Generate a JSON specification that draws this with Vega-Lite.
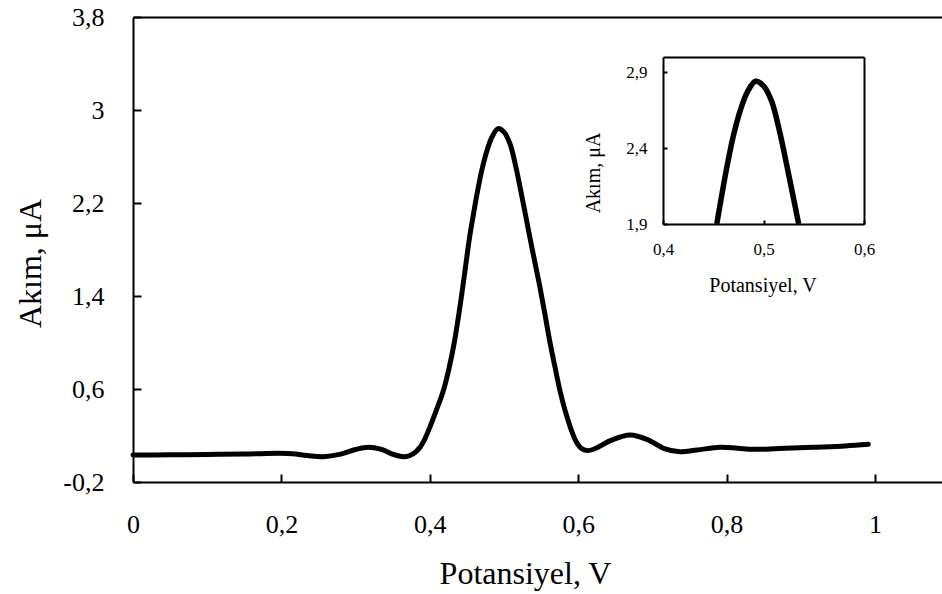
{
  "$schema": "https://vega.github.io/schema/vega-lite/v6.json",
  "autosize": {"type": "none"},
  "padding": {"left": 133, "top": 17, "right": 0, "bottom": 112},
  "width": 809,
  "height": 465,
  "background": "white",
  "config": {
    "view": {"stroke": null},
    "font": "Times New Roman, Liberation Serif, serif",
    "axis": {
      "grid": false,
      "domainColor": "black",
      "tickColor": "black",
      "labelColor": "black",
      "titleColor": "black",
      "titleFontWeight": "normal",
      "labelFont": "Times New Roman, Liberation Serif, serif",
      "titleFont": "Times New Roman, Liberation Serif, serif"
    }
  },
  "data": {
    "values": [
      {"potansiyel": 0.000, "akim": 0.032},
      {"potansiyel": 0.050, "akim": 0.034},
      {"potansiyel": 0.100, "akim": 0.037},
      {"potansiyel": 0.150, "akim": 0.040},
      {"potansiyel": 0.198, "akim": 0.047},
      {"potansiyel": 0.215, "akim": 0.043},
      {"potansiyel": 0.235, "akim": 0.028},
      {"potansiyel": 0.256, "akim": 0.018},
      {"potansiyel": 0.280, "akim": 0.040},
      {"potansiyel": 0.300, "akim": 0.080},
      {"potansiyel": 0.317, "akim": 0.099},
      {"potansiyel": 0.335, "akim": 0.080},
      {"potansiyel": 0.352, "akim": 0.035},
      {"potansiyel": 0.367, "akim": 0.018},
      {"potansiyel": 0.378, "akim": 0.045},
      {"potansiyel": 0.387, "akim": 0.100},
      {"potansiyel": 0.394, "akim": 0.180},
      {"potansiyel": 0.400, "akim": 0.270},
      {"potansiyel": 0.409, "akim": 0.420},
      {"potansiyel": 0.418, "akim": 0.580},
      {"potansiyel": 0.426, "akim": 0.780},
      {"potansiyel": 0.433, "akim": 1.000},
      {"potansiyel": 0.440, "akim": 1.280},
      {"potansiyel": 0.446, "akim": 1.550},
      {"potansiyel": 0.4535, "akim": 1.900},
      {"potansiyel": 0.459, "akim": 2.110},
      {"potansiyel": 0.464, "akim": 2.290},
      {"potansiyel": 0.470, "akim": 2.480},
      {"potansiyel": 0.477, "akim": 2.650},
      {"potansiyel": 0.484, "akim": 2.770},
      {"potansiyel": 0.492, "akim": 2.840},
      {"potansiyel": 0.500, "akim": 2.810},
      {"potansiyel": 0.508, "akim": 2.710},
      {"potansiyel": 0.516, "akim": 2.510},
      {"potansiyel": 0.524, "akim": 2.260},
      {"potansiyel": 0.535, "akim": 1.900},
      {"potansiyel": 0.541, "akim": 1.710},
      {"potansiyel": 0.548, "akim": 1.490},
      {"potansiyel": 0.555, "akim": 1.250},
      {"potansiyel": 0.562, "akim": 1.000},
      {"potansiyel": 0.569, "akim": 0.780},
      {"potansiyel": 0.576, "akim": 0.570},
      {"potansiyel": 0.583, "akim": 0.400},
      {"potansiyel": 0.590, "akim": 0.260},
      {"potansiyel": 0.597, "akim": 0.150},
      {"potansiyel": 0.604, "akim": 0.090},
      {"potansiyel": 0.612, "akim": 0.070},
      {"potansiyel": 0.622, "akim": 0.085},
      {"potansiyel": 0.645, "akim": 0.160},
      {"potansiyel": 0.670, "akim": 0.204},
      {"potansiyel": 0.695, "akim": 0.160},
      {"potansiyel": 0.715, "akim": 0.090},
      {"potansiyel": 0.737, "akim": 0.061},
      {"potansiyel": 0.760, "akim": 0.075},
      {"potansiyel": 0.791, "akim": 0.099},
      {"potansiyel": 0.815, "akim": 0.090},
      {"potansiyel": 0.836, "akim": 0.081},
      {"potansiyel": 0.870, "akim": 0.088},
      {"potansiyel": 0.917, "akim": 0.099},
      {"potansiyel": 0.960, "akim": 0.110},
      {"potansiyel": 0.991, "akim": 0.124}
    ]
  },
  "resolve": {
    "scale": {"x": "independent", "y": "independent"},
    "axis": {"x": "independent", "y": "independent"}
  },
  "layer": [
    {
      "mark": {"type": "line", "color": "black", "strokeWidth": 5, "interpolate": "catmull-rom", "strokeCap": "round"},
      "encoding": {
        "x": {
          "field": "potansiyel", "type": "quantitative",
          "scale": {"domain": [0, 1.0903], "nice": false, "zero": false},
          "axis": {
            "orient": "bottom", "values": [0, 0.2, 0.4, 0.6, 0.8, 1],
            "labelExpr": "replace(toString(datum.value), '.', ',')",
            "domainWidth": 2, "tickWidth": 2, "tickSize": -8,
            "labelFontSize": 26, "labelPadding": 37.5, "labelFlush": false, "labelOverlap": false,
            "title": "Potansiyel, V", "titleFontSize": 32,
            "titleX": 392, "titleY": 101, "titleAlign": "center", "titleBaseline": "alphabetic", "titleAnchor": null
          }
        },
        "y": {
          "field": "akim", "type": "quantitative",
          "scale": {"domain": [-0.2, 3.8], "nice": false, "zero": false},
          "axis": {
            "orient": "left", "values": [-0.2, 0.6, 1.4, 2.2, 3, 3.8],
            "labelExpr": "replace(toString(datum.value), '.', ',')",
            "domainWidth": 2, "tickWidth": 2, "tickSize": -8,
            "labelFontSize": 26, "labelPadding": 37, "labelFlush": false, "labelOverlap": false,
            "title": "Akım, μA", "titleFontSize": 32, "titleAngle": -90,
            "titleX": -103, "titleY": 246, "titleAlign": "center", "titleBaseline": "middle", "titleAnchor": null
          }
        }
      }
    },
    {
      "transform": [{"filter": "datum.akim >= 1.9 && datum.potansiyel >= 0.4 && datum.potansiyel <= 0.6"}],
      "mark": {"type": "line", "color": "black", "strokeWidth": 5.5, "interpolate": "catmull-rom", "strokeCap": "butt"},
      "encoding": {
        "x": {
          "field": "potansiyel", "type": "quantitative",
          "scale": {"domain": [0.4, 0.6], "range": [530, 731], "nice": false, "zero": false},
          "axis": {
            "orient": "bottom", "offset": -258, "values": [0.4, 0.5, 0.6],
            "labelExpr": "replace(toString(datum.value), '.', ',')",
            "domainWidth": 2, "tickWidth": 2, "tickSize": -4,
            "labelFontSize": 17, "labelPadding": 21.3, "labelFlush": false, "labelOverlap": false,
            "title": "Potansiyel, V", "titleFontSize": 20,
            "titleX": 629.5, "titleY": 67.7, "titleAlign": "center", "titleBaseline": "alphabetic", "titleAnchor": null
          }
        },
        "y": {
          "field": "akim", "type": "quantitative",
          "scale": {"domain": [1.9, 3.0], "range": [207, 40], "nice": false, "zero": false},
          "axis": {
            "orient": "left", "offset": -530, "values": [1.9, 2.4, 2.9],
            "labelExpr": "replace(toString(datum.value), '.', ',')",
            "domainWidth": 2, "tickWidth": 2, "tickSize": -4,
            "labelFontSize": 17, "labelPadding": 20, "labelFlush": false, "labelOverlap": false,
            "title": "Akım, μA", "titleFontSize": 20, "titleAngle": -90,
            "titleX": -70, "titleY": 155.5, "titleAlign": "center", "titleBaseline": "middle", "titleAnchor": null
          }
        }
      }
    },
    {
      "transform": [{"filter": "datum.akim >= 1.9 && datum.potansiyel >= 0.4 && datum.potansiyel <= 0.6"}],
      "mark": {"type": "line", "color": "black", "strokeOpacity": 0},
      "encoding": {
        "x": {
          "field": "potansiyel", "type": "quantitative",
          "scale": {"domain": [0.4, 0.6], "range": [530, 731], "nice": false, "zero": false},
          "axis": {"orient": "top", "offset": -40, "domainWidth": 2, "ticks": false, "labels": false, "title": null}
        },
        "y": {
          "field": "akim", "type": "quantitative",
          "scale": {"domain": [1.9, 3.0], "range": [207, 40], "nice": false, "zero": false},
          "axis": {"orient": "right", "offset": -78, "domainWidth": 2, "ticks": false, "labels": false, "title": null}
        }
      }
    },
    {
      "mark": {"type": "line", "color": "black", "strokeOpacity": 0},
      "encoding": {
        "x": {
          "field": "potansiyel", "type": "quantitative",
          "scale": {"domain": [0, 1.0903], "nice": false, "zero": false},
          "axis": {"orient": "top", "domainWidth": 2, "ticks": false, "labels": false, "title": null}
        },
        "y": {
          "field": "akim", "type": "quantitative",
          "scale": {"domain": [-0.2, 3.8], "nice": false, "zero": false},
          "axis": null
        }
      }
    }
  ]
}
